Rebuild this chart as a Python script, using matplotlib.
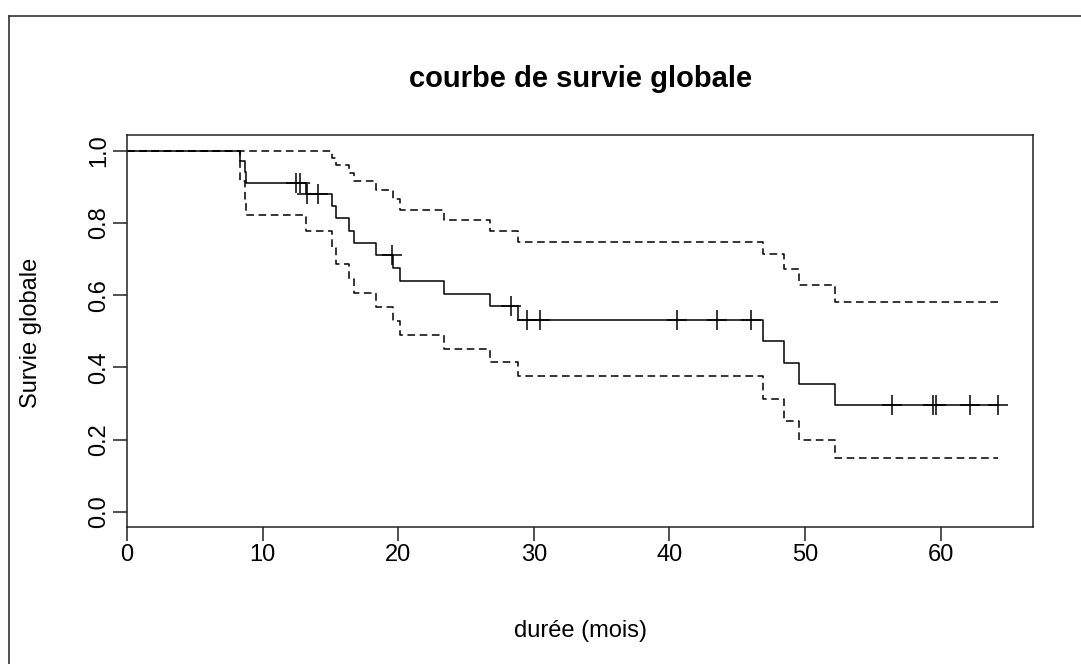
import matplotlib
matplotlib.use("Agg")
import matplotlib.pyplot as plt
import numpy as np
from matplotlib.lines import Line2D

plt.rcParams["font.family"] = ["Liberation Sans", "DejaVu Sans"]

# Kaplan-Meier steps (time in months)
event_times = [0, 8.37, 8.69, 8.81, 13.23, 15.15, 15.44, 16.37, 16.72, 18.34, 19.65,
               20.10, 23.35, 26.78, 28.82, 46.91, 48.46, 49.57, 52.22]
surv = [1.0, 0.971, 0.941, 0.912, 0.880, 0.846, 0.813, 0.779, 0.745, 0.711, 0.675,
        0.640, 0.604, 0.569, 0.531, 0.472, 0.413, 0.354, 0.295]
upper = [1.0, 1.0, 1.0, 1.0, 0.998, 0.980, 0.961, 0.939, 0.916, 0.891, 0.865,
         0.837, 0.809, 0.779, 0.748, 0.713, 0.673, 0.629, 0.581]
lower = [1.0, 0.915, 0.865, 0.821, 0.777, 0.731, 0.687, 0.646, 0.606, 0.568, 0.528,
         0.489, 0.452, 0.415, 0.377, 0.312, 0.253, 0.199, 0.150]
last_time = 64.25

censor_times = [12.50, 12.74, 13.30, 14.10, 19.55, 28.33, 29.48, 30.47, 40.56, 43.55,
                46.00, 56.44, 59.46, 59.68, 62.14, 64.25]

x_ticks = [0, 10, 20, 30, 40, 50, 60]
y_ticks = [0.0, 0.2, 0.4, 0.6, 0.8, 1.0]
y_tick_labels = ["0.0", "0.2", "0.4", "0.6", "0.8", "1.0"]

W, H = 1081, 664
fig = plt.figure(figsize=(W / 100, H / 100), dpi=100)
ax = fig.add_axes([127 / W, 1 - 527 / H, 906 / W, 392 / H])

xs = np.append(event_times, last_time)
ax.step(xs, np.append(surv, surv[-1]), where="post", color="black", lw=1.1)
for band in (upper, lower):
    ax.step(xs, np.append(band, band[-1]), where="post", color="black", lw=1.1,
            dashes=(5, 3))

# censor marks sit on the curve
idx = np.searchsorted(event_times, censor_times, side="right") - 1
cy = np.asarray(surv)[idx]
ax.plot(censor_times, cy, ls="none", marker="+", ms=14, mew=1.1, color="black")

ax.set_xlim(0, 64.25 * 1.04)
ax.set_ylim(-0.0415, 1.0435)
ax.set_xticks(x_ticks)
ax.set_yticks(y_ticks)
ax.set_yticklabels(y_tick_labels, rotation=90, va="center")
ax.tick_params(direction="out", length=10, width=1.1, labelsize=17, color="#222222")
ax.tick_params(axis="x", pad=2)
ax.tick_params(axis="y", pad=2)
for s in ax.spines.values():
    s.set_linewidth(1.1)
    s.set_color("#222222")

fig.text(581 / W, 1 - 79 / H, "courbe de survie globale", ha="center", va="center",
         fontsize=21, fontweight="bold")
fig.text(580 / W, 1 - 631 / H, "durée (mois)", ha="center", va="center", fontsize=17)
fig.text(31 / W, 1 - 333 / H, "Survie globale", ha="center", va="center", fontsize=17,
         rotation=90)

# outer frame of the screenshot
fig.add_artist(Line2D([9 / W, 9 / W], [0, 1 - 16 / H], color="#333333", lw=1.2))
fig.add_artist(Line2D([9 / W, 1], [1 - 16 / H, 1 - 16 / H], color="#333333", lw=1.2))

fig.savefig("out.png", dpi=100)
